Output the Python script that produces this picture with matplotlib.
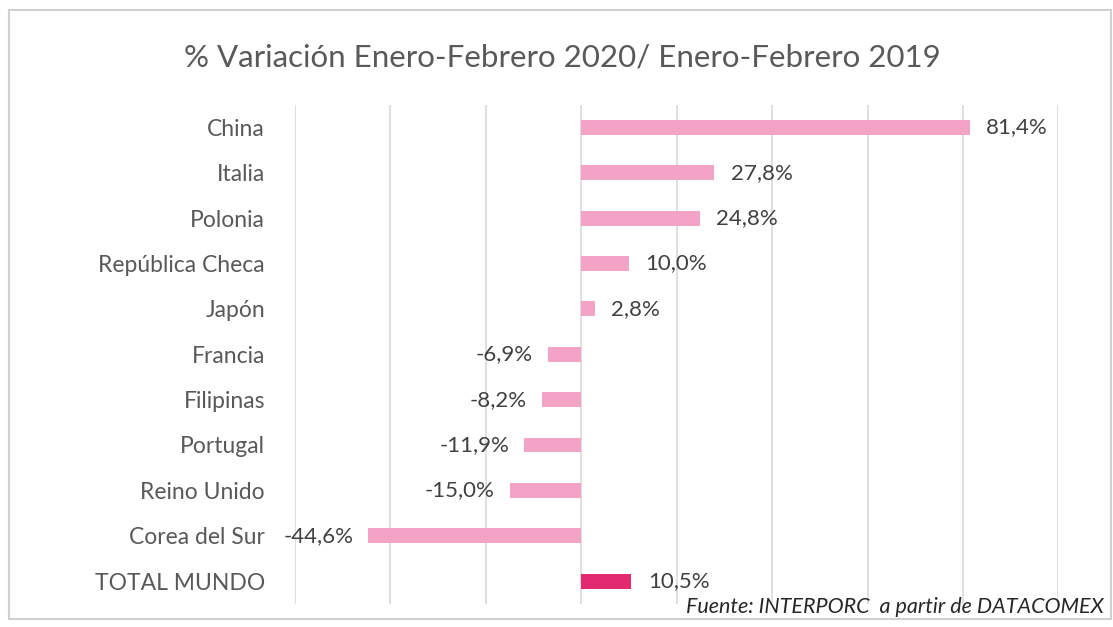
import matplotlib.pyplot as plt
from matplotlib.patches import Rectangle

plt.rcParams['font.family'] = ['Lato', 'DejaVu Sans']

# Data
paises = ['China', 'Italia', 'Polonia', 'República Checa', 'Japón', 'Francia',
          'Filipinas', 'Portugal', 'Reino Unido', 'Corea del Sur', 'TOTAL MUNDO']
variacion = [81.4, 27.8, 24.8, 10.0, 2.8, -6.9, -8.2, -11.9, -15.0, -44.6, 10.5]
colores = ['#F2A3C6'] * 10 + ['#E32A70']

fig = plt.figure(figsize=(11.13, 6.27), dpi=100)
ax = fig.add_axes([0.265, 0.037, 0.686, 0.796])

y = list(range(len(paises)))
ax.barh(y, variacion, height=0.33, color=colores, zorder=3)
ax.set_ylim(len(paises) - 0.5, -0.5)
ax.set_xlim(-60, 100)
ax.set_xticks(range(-60, 101, 20))
ax.xaxis.grid(True, color='#D9D9D9', linewidth=1.2, zorder=0)
ax.tick_params(axis='x', bottom=False, labelbottom=False)
ax.tick_params(axis='y', left=False, pad=18, labelsize=16.5, labelcolor='#595959')
ax.set_yticks(y)
ax.set_yticklabels(paises)
for s in ax.spines.values():
    s.set_visible(False)

# data labels
for yi, v in zip(y, variacion):
    txt = f'{v:.1f}%'.replace('.', ',')
    if v >= 0:
        ax.annotate(txt, (v, yi), xytext=(12, 0), textcoords='offset points',
                    ha='left', va='center', fontsize=16, color='#404040')
    else:
        ax.annotate(txt, (v, yi), xytext=(-11, 0), textcoords='offset points',
                    ha='right', va='center', fontsize=16, color='#404040')

fig.text(0.505, 0.909, '% Variación Enero-Febrero 2020/ Enero-Febrero 2019',
         ha='center', va='center', fontsize=22.5, color='#595959')
fig.text(0.992, 0.032, 'Fuente: INTERPORC  a partir de DATACOMEX',
         ha='right', va='center', fontsize=15.5, style='italic', color='#262626')

fig.patches.append(Rectangle((0.008, 0.012), 0.99, 0.972, transform=fig.transFigure,
                             fill=False, edgecolor='#D0D0D0', linewidth=1.5))

fig.savefig('out.png', dpi=100)
